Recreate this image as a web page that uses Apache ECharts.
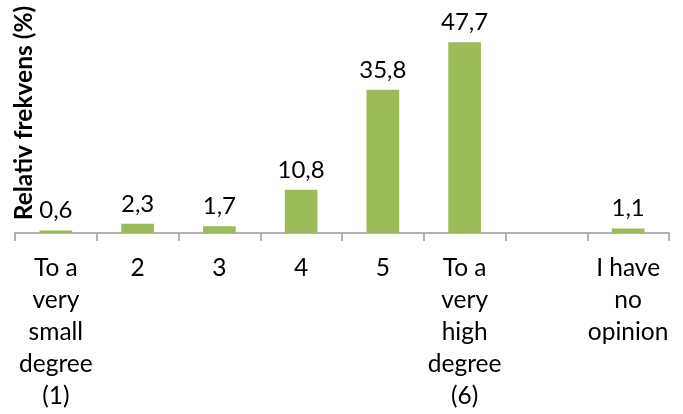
<!DOCTYPE html>
<html><head><meta charset="utf-8">
<script src="https://cdn.jsdelivr.net/npm/echarts@6/dist/echarts.min.js"></script>
<style>html,body{margin:0;padding:0;background:#fff}#c{width:683px;height:414px}</style>
</head><body><div id="c"></div>
<script>
const categories = ["To a\nvery\nsmall\ndegree\n(1)", "2", "3", "4", "5", "To a\nvery\nhigh\ndegree\n(6)", "", "I have\nno\nopinion"];
const values = [0.6, 2.3, 1.7, 10.8, 35.8, 47.7, null, 1.1];
const yName = "Relativ frekvens (%)";
const FONT = "Lato";
const chart = echarts.init(document.getElementById('c'));
chart.setOption({
  animation: false,
  grid: {left: 15, right: 14, top: 33, bottom: 181},
  xAxis: {
    type: 'category', data: categories, boundaryGap: true,
    axisLine: {lineStyle: {color: '#9a9a9a', width: 1.5}},
    axisTick: {show: true, length: 8, alignWithLabel: false, lineStyle: {color: '#9a9a9a', width: 1.5}},
    axisLabel: {interval: 0, color: '#000', fontFamily: FONT, fontSize: 24.5, lineHeight: 32, margin: 19, align: 'center'}
  },
  yAxis: {
    type: 'value', min: 0, max: 50, show: false
  },
  series: [{
    type: 'bar', data: values, barWidth: '40%',
    itemStyle: {color: '#9BBB59'},
    label: {show: true, position: 'top', distance: 8, color: '#000', fontFamily: FONT, fontSize: 24,
      formatter: p => p.value == null ? '' : String(p.value.toFixed(1)).replace('.', ',')}
  }],
  graphic: [{
    type: 'text', x: 24, y: 113, rotation: Math.PI / 2,
    style: {text: yName, fontFamily: FONT, fontWeight: 'bold', fontSize: 24.5, fill: '#000', align: 'center', verticalAlign: 'middle'}
  }]
});
</script></body></html>
